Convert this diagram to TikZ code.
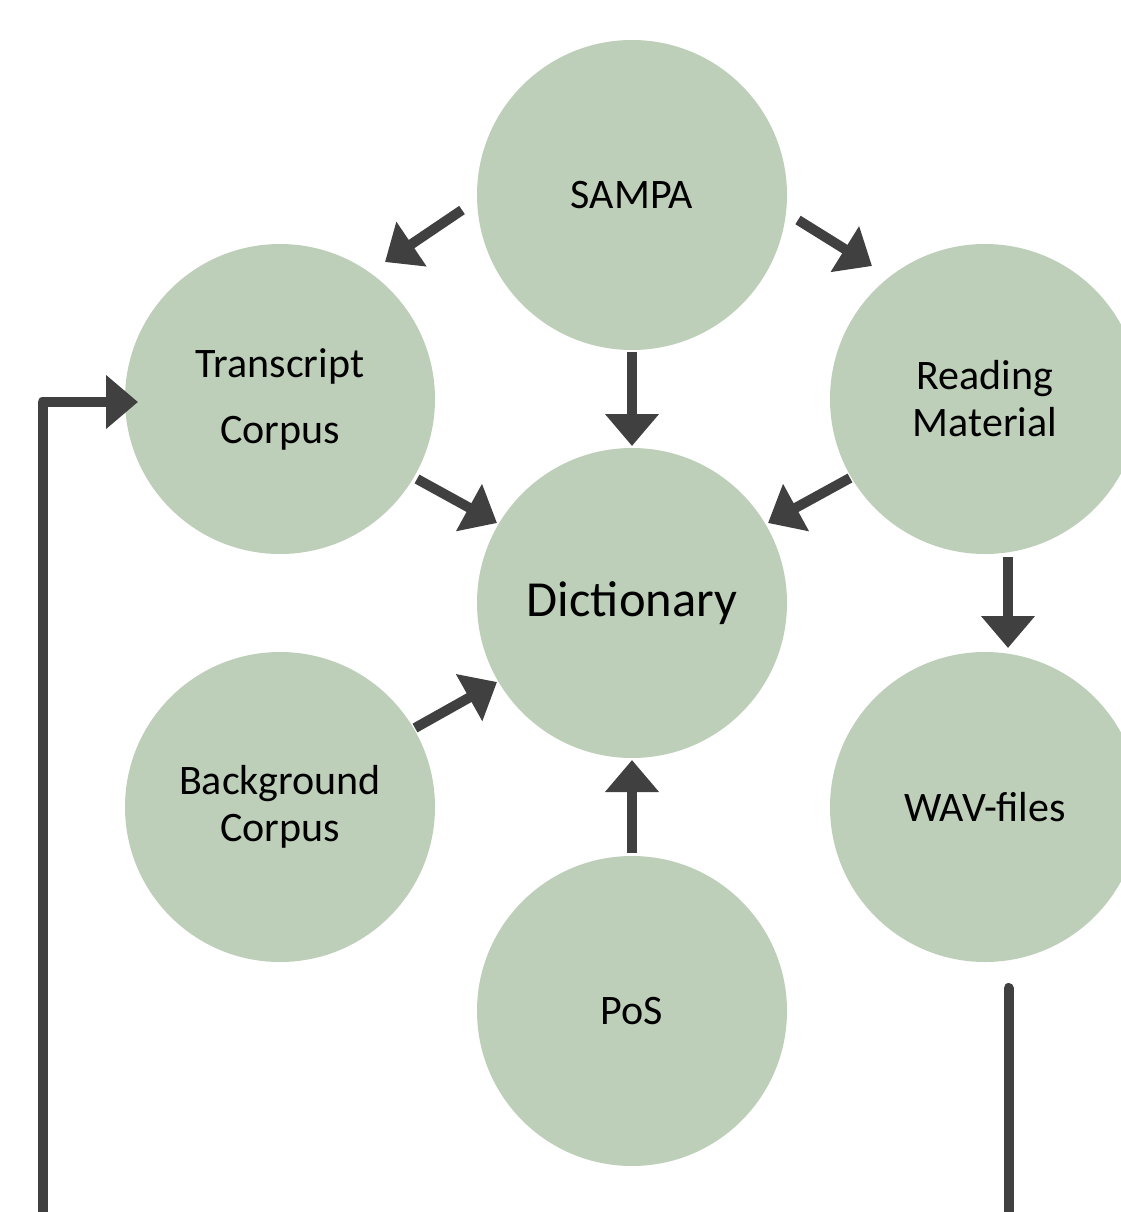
\documentclass[tikz,border=0pt]{standalone}
\usepackage{fontspec}
\setmainfont{Carlito}
\usetikzlibrary{arrows.meta,calc}
\definecolor{circfill}{RGB}{189,207,185}
\definecolor{arrowgray}{RGB}{64,64,64}
\tikzset{
  bub/.style={circle,fill=circfill,draw=none,minimum size=310pt,inner sep=0pt,align=center,
    font=\fontsize{42}{47}\selectfont},
  blk/.style={draw=arrowgray,line width=10pt,-{Triangle[width=52pt,length=32pt]},arrowgray},
  conn/.style={draw=arrowgray,line width=10pt},
}
\begin{document}
\begin{tikzpicture}[x=1pt,y=-1pt]
\useasboundingbox (0,0) rectangle (1121,1212);
\clip (0,0) rectangle (1121,1212);
\node[bub] (sampa) at (632,195) {SAMPA};
\node[bub,font=\fontsize{42}{66}\selectfont] (trans) at (280,399) {Transcript\\Corpus};
\node[bub] (read) at (985,399) {Reading\\Material};
\node[bub,font=\fontsize{50.5}{56}\selectfont] (dict) at (632,603) {Dictionary};
\node[bub] (back) at (280,807) {Background\\Corpus};
\node[bub] (wav) at (985,807) {WAV-files};
\node[bub] (pos) at (632,1011) {PoS};

\draw[blk] ($(sampa)+(-170,15)$) -- ($(trans)+(105,-137)$);
\draw[blk] ($(sampa)+(166,25)$) -- ($(read)+(-113,-133)$);
\draw[blk] ($(sampa)+(0,157)$) -- ($(dict)+(0,-157)$);
\draw[blk] ($(trans)+(137,80)$) -- ($(dict)+(-135,-80)$);
\draw[blk] ($(read)+(-135,79)$) -- ($(dict)+(136,-80)$);
\draw[blk] ($(back)+(135,-79)$) -- ($(dict)+(-135,79)$);
\draw[blk] ($(pos)+(0,-158)$) -- ($(dict)+(0,157)$);
\draw[blk] ($(read)+(23,158)$) -- ($(wav)+(23,-159)$);

\coordinate (lbot) at (42.5,1225);
\coordinate (rbot) at (1008.5,1225);
\draw[blk,line join=round] (lbot) |- ($(trans)+(-142,3)$);
\draw[conn,line cap=round] ($(wav)+(23.5,181)$) -- (rbot);
\end{tikzpicture}
\end{document}
